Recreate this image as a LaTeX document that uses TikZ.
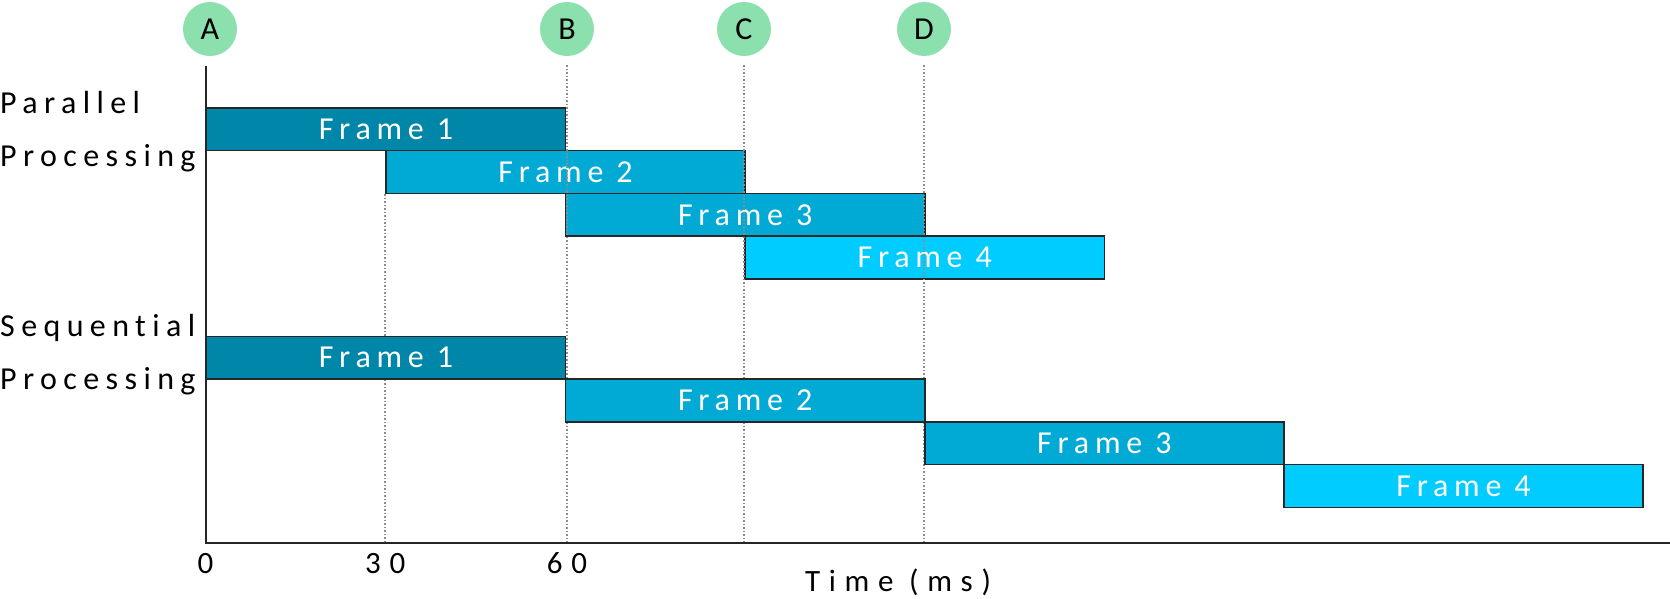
\documentclass[tikz,border=0pt]{standalone}
\usepackage{fontspec}
\setmainfont{Carlito}
\newfontfamily\framefont[LetterSpace=18,Ligatures=NoCommon]{Carlito}
\newfontfamily\labelfont[LetterSpace=28,Ligatures=NoCommon]{Carlito}
\newfontfamily\sidefont[LetterSpace=20,Ligatures=NoCommon]{Carlito}
\usepackage{tikz}
\usetikzlibrary{positioning}
\definecolor{frameA}{RGB}{0,134,168}
\definecolor{frameB}{RGB}{0,170,212}
\definecolor{frameC}{RGB}{0,204,255}
\definecolor{tagfill}{RGB}{140,224,174}
\tikzstyle{axis}=[line width=2pt, black!85]
\tikzstyle{guide}=[dotted, line width=1.5pt, black!45]
\tikzstyle{frm}=[draw=black!85, line width=1.5pt, inner sep=0pt, anchor=north west,
  minimum width=359.2pt, minimum height=42.8pt, text=white,
  font=\framefont\fontsize{32}{32}\selectfont]
\tikzstyle{tag}=[circle, fill=tagfill, minimum size=54pt, inner sep=0pt,
  font=\fontsize{32}{32}\selectfont]
\tikzstyle{lbl}=[inner sep=0pt, font=\labelfont\fontsize{31}{31}\selectfont]
\tikzstyle{side}=[inner sep=0pt, anchor=base west, font=\sidefont\fontsize{32}{32}\selectfont]

\begin{document}
\begin{tikzpicture}[x=1pt, y=-1pt]
    \useasboundingbox (0,0) rectangle (1670,598);

    % マーカー
    \node[tag] (A) at (210,29) {A};
    \node[tag] (B) at (567,29) {B};
    \node[tag] (C) at (744,29) {C};
    \node[tag] (D) at (924,29) {D};

    % 座標軸
    \coordinate (o) at (205.6,543);
    \coordinate (top) at (205.6,66);
    \coordinate (xend) at (1670,543);

    % 並列処理
    \node[frm, fill=frameA] (pf1) at (205.6,107) {Frame 1};
    \node[frm, fill=frameB] (pf2) at (385.2,149.8) {Frame 2};
    \node[frm, fill=frameB] (pf3) at (564.8,192.6) {Frame 3};
    \node[frm, fill=frameC] (pf4) at (744.4,235.4) {Frame 4};

    % 補助線
    \draw[guide] (pf2.south west) -- (pf2.south west |- o);
    \draw[guide] ([yshift=-9pt]B.south) -- (B.south |- o);
    \draw[guide] ([yshift=-9pt]C.south) -- (C.south |- o);
    \draw[guide] ([yshift=-9pt]D.south) -- (D.south |- o);

    % 逐次処理
    \node[frm, fill=frameA] (sf1) at (205.6,335.5) {Frame 1};
    \node[frm, fill=frameB] (sf2) at (564.8,378.3) {Frame 2};
    \node[frm, fill=frameB] (sf3) at (924,421.1) {Frame 3};
    \node[frm, fill=frameC] (sf4) at (1283.2,463.9) {Frame 4};

    \draw[axis] (top) -- (o) -- (xend);

    % ラベル
    \node[side] (par) at (0,113) {Parallel};
    \node[side] (parb) at (0,166) {Processing};
    \node[side] (seq) at (0,336) {Sequential};
    \node[side] (seqb) at (0,389) {Processing};
    \node[lbl, anchor=base] (t0) at (o |- 0,573) {0};
    \node[lbl, anchor=base] (t30) at (pf2.south west |- 0,573) {30};
    \node[lbl, anchor=base] (t60) at (B |- 0,573) {60};
    \node[lbl, anchor=base] (time) at (898,591) {Time (ms)};
\end{tikzpicture}
\end{document}
